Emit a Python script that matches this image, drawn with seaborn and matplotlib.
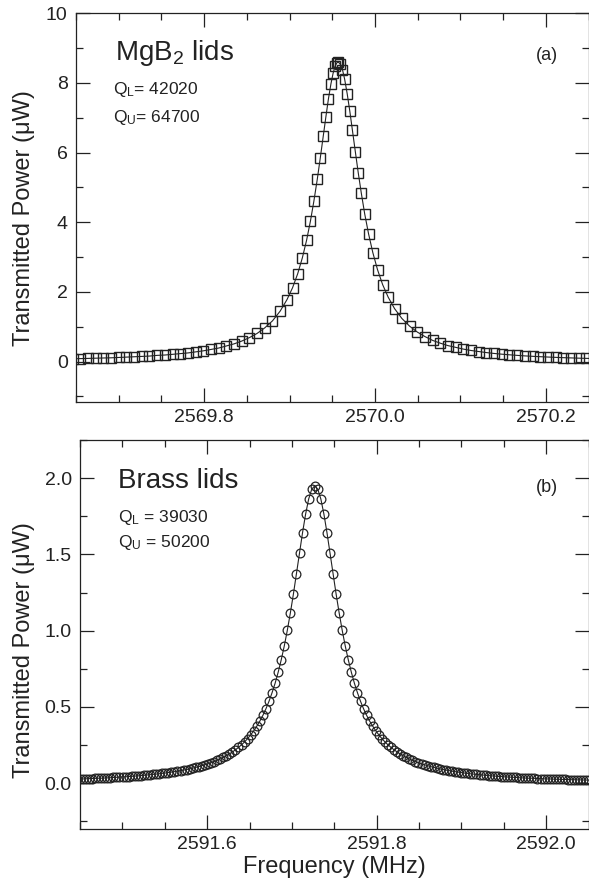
import numpy as np
import pandas as pd
import matplotlib
matplotlib.use("Agg")
import matplotlib.pyplot as plt
import seaborn as sns
from matplotlib.ticker import MultipleLocator

# ---------------- data ----------------
# Panel (a): MgB2 lids
freq_a = [
    2569.646, 2569.655, 2569.664, 2569.673, 2569.682, 2569.691, 2569.700, 2569.709,
    2569.718, 2569.727, 2569.736, 2569.745, 2569.754, 2569.763, 2569.772, 2569.781,
    2569.790, 2569.799, 2569.808, 2569.817, 2569.826, 2569.835, 2569.844, 2569.853,
    2569.862, 2569.871, 2569.880, 2569.889, 2569.897, 2569.9035, 2569.9095, 2569.915,
    2569.920, 2569.9245, 2569.9285, 2569.9325, 2569.936, 2569.9395, 2569.9425, 2569.9455,
    2569.9485, 2569.951, 2569.9535, 2569.9555, 2569.957,
    2569.9595, 2569.962, 2569.9645, 2569.9675, 2569.9705, 2569.9735, 2569.977, 2569.9805,
    2569.984, 2569.988, 2569.9925, 2569.9975, 2570.003, 2570.009, 2570.0155, 2570.023,
    2570.0315, 2570.0405, 2570.0495, 2570.0585, 2570.0675, 2570.0765, 2570.0855, 2570.0945,
    2570.1035, 2570.1125, 2570.1215, 2570.1305, 2570.1395, 2570.1485, 2570.1575, 2570.1665,
    2570.1755, 2570.1845, 2570.1935, 2570.2025, 2570.2115, 2570.2205, 2570.2295, 2570.2385,
    2570.2475, 2570.2565,
]
power_a = [
    0.082, 0.087, 0.093, 0.099, 0.105, 0.11, 0.12, 0.13,
    0.14, 0.15, 0.16, 0.18, 0.19, 0.21, 0.23, 0.25,
    0.28, 0.31, 0.35, 0.39, 0.45, 0.51, 0.59, 0.69,
    0.81, 0.97, 1.17, 1.45, 1.78, 2.12, 2.52, 2.98,
    3.49, 4.04, 4.61, 5.24, 5.85, 6.48, 7.02, 7.54,
    7.98, 8.28, 8.49, 8.58, 8.60,
    8.54, 8.38, 8.11, 7.69, 7.20, 6.66, 6.03, 5.41,
    4.84, 4.24, 3.67, 3.13, 2.64, 2.21, 1.85, 1.52,
    1.24, 1.02, 0.85, 0.72, 0.61, 0.53, 0.46, 0.41,
    0.36, 0.32, 0.29, 0.26, 0.235, 0.214, 0.196, 0.18,
    0.165, 0.153, 0.142, 0.132, 0.123, 0.114, 0.107, 0.10,
    0.094, 0.089,
]

# Panel (b): Brass lids
freq_b = [
    2591.4462, 2591.4498, 2591.4534, 2591.4570, 2591.4606, 2591.4642, 2591.4678, 2591.4714,
    2591.4750, 2591.4786, 2591.4822, 2591.4858, 2591.4894, 2591.4930, 2591.4966, 2591.5002,
    2591.5038, 2591.5074, 2591.5110, 2591.5146, 2591.5182, 2591.5218, 2591.5254, 2591.5290,
    2591.5326, 2591.5362, 2591.5398, 2591.5434, 2591.5470, 2591.5506, 2591.5542, 2591.5578,
    2591.5614, 2591.5650, 2591.5686, 2591.5722, 2591.5758, 2591.5794, 2591.5830, 2591.5866,
    2591.5902, 2591.5938, 2591.5974, 2591.6010, 2591.6046, 2591.6082, 2591.6118, 2591.6154,
    2591.6190, 2591.6226, 2591.6262, 2591.6298, 2591.6334, 2591.6370, 2591.6406, 2591.6442,
    2591.6478, 2591.6514, 2591.6550, 2591.6586, 2591.6622, 2591.6658, 2591.6694, 2591.6730,
    2591.6766, 2591.6802, 2591.6838, 2591.6874, 2591.6910, 2591.6946, 2591.6982, 2591.7018,
    2591.7054, 2591.7090, 2591.7126, 2591.7162, 2591.7198, 2591.7234, 2591.7270, 2591.7306,
    2591.7342, 2591.7378, 2591.7414, 2591.7450, 2591.7486, 2591.7522, 2591.7558, 2591.7594,
    2591.7630, 2591.7666, 2591.7702, 2591.7738, 2591.7774, 2591.7810, 2591.7846, 2591.7882,
    2591.7918, 2591.7954, 2591.7990, 2591.8026, 2591.8062, 2591.8098, 2591.8134, 2591.8170,
    2591.8206, 2591.8242, 2591.8278, 2591.8314, 2591.8350, 2591.8386, 2591.8422, 2591.8458,
    2591.8494, 2591.8530, 2591.8566, 2591.8602, 2591.8638, 2591.8674, 2591.8710, 2591.8746,
    2591.8782, 2591.8818, 2591.8854, 2591.8890, 2591.8926, 2591.8962, 2591.8998, 2591.9034,
    2591.9070, 2591.9106, 2591.9142, 2591.9178, 2591.9214, 2591.9250, 2591.9286, 2591.9322,
    2591.9358, 2591.9394, 2591.9430, 2591.9466, 2591.9502, 2591.9538, 2591.9574, 2591.9610,
    2591.9646, 2591.9682, 2591.9718, 2591.9754, 2591.9790, 2591.9826, 2591.9862, 2591.9898,
    2591.9934, 2591.9970, 2592.0006, 2592.0042, 2592.0078, 2592.0114, 2592.0150, 2592.0186,
    2592.0222, 2592.0258, 2592.0294, 2592.0330, 2592.0366, 2592.0402, 2592.0438, 2592.0474,
    2592.0510,
]
power_b = [
    0.027, 0.028, 0.028, 0.029, 0.030, 0.031, 0.032, 0.033,
    0.033, 0.034, 0.035, 0.036, 0.038, 0.039, 0.040, 0.041,
    0.042, 0.044, 0.045, 0.047, 0.048, 0.050, 0.052, 0.054,
    0.056, 0.058, 0.060, 0.062, 0.065, 0.067, 0.070, 0.073,
    0.076, 0.079, 0.083, 0.086, 0.090, 0.094, 0.099, 0.104,
    0.109, 0.115, 0.121, 0.127, 0.134, 0.142, 0.150, 0.159,
    0.169, 0.180, 0.192, 0.205, 0.219, 0.235, 0.252, 0.271,
    0.293, 0.317, 0.344, 0.374, 0.407, 0.445, 0.488, 0.537,
    0.593, 0.655, 0.727, 0.808, 0.899, 1.002, 1.116, 1.240,
    1.373, 1.509, 1.643, 1.764, 1.863, 1.927, 1.950, 1.927,
    1.863, 1.764, 1.643, 1.509, 1.373, 1.240, 1.116, 1.002,
    0.899, 0.808, 0.727, 0.655, 0.593, 0.537, 0.488, 0.445,
    0.407, 0.374, 0.344, 0.317, 0.293, 0.271, 0.252, 0.235,
    0.219, 0.205, 0.192, 0.180, 0.169, 0.159, 0.150, 0.142,
    0.134, 0.127, 0.121, 0.115, 0.109, 0.104, 0.099, 0.094,
    0.090, 0.086, 0.083, 0.079, 0.076, 0.073, 0.070, 0.067,
    0.065, 0.062, 0.060, 0.058, 0.056, 0.054, 0.052, 0.050,
    0.048, 0.047, 0.045, 0.044, 0.042, 0.041, 0.040, 0.039,
    0.038, 0.036, 0.035, 0.034, 0.033, 0.033, 0.032, 0.031,
    0.030, 0.029, 0.028, 0.028, 0.027, 0.026, 0.026, 0.025,
    0.025, 0.024, 0.023, 0.023, 0.022, 0.022, 0.021, 0.021,
    0.020,
]

title_a = "MgB$_2$ lids"
title_b = "Brass lids"
q_a = ["$\\mathregular{Q_L}$= 42020", "$\\mathregular{Q_U}$= 64700"]
q_b = ["$\\mathregular{Q_L}$ = 39030", "$\\mathregular{Q_U}$ = 50200"]

# ---------------- style ----------------
sns.set_style("ticks")
plt.rcParams["font.family"] = ["Liberation Sans", "DejaVu Sans"]
plt.rcParams["mathtext.fontset"] = "custom"
plt.rcParams["mathtext.rm"] = "Liberation Sans"
plt.rcParams["mathtext.it"] = "Liberation Sans"
plt.rcParams["mathtext.default"] = "regular"

INK = "#222222"

fig = plt.figure(figsize=(5.89, 8.84), dpi=100)
W, H = 589.0, 884.0


def px_axes(left, top, right, bottom):
    return fig.add_axes([left / W, (H - bottom) / H, (right - left) / W, (bottom - top) / H])


ax1 = px_axes(76, 13.3, 588.5, 401.7)
ax2 = px_axes(80, 440, 588.5, 829)

df_a = pd.DataFrame({"Frequency (MHz)": freq_a, "Power": power_a})
df_b = pd.DataFrame({"Frequency (MHz)": freq_b, "Power": power_b})

sns.lineplot(data=df_a, x="Frequency (MHz)", y="Power", ax=ax1, color=INK, linewidth=0.8,
             marker="s", markersize=6.8, markerfacecolor="none", markeredgecolor=INK,
             markeredgewidth=1.0)
sns.lineplot(data=df_b, x="Frequency (MHz)", y="Power", ax=ax2, color=INK, linewidth=0.8,
             marker="o", markersize=6.3, markerfacecolor="none", markeredgecolor=INK,
             markeredgewidth=0.9)

ax1.set_xlim(2569.65, 2570.25)
ax1.set_ylim(-1.15, 10)
ax2.set_xlim(2591.45, 2592.05)
ax2.set_ylim(-0.3, 2.25)

ax1.xaxis.set_major_locator(MultipleLocator(0.2))
ax1.xaxis.set_minor_locator(MultipleLocator(0.05))
ax1.yaxis.set_major_locator(MultipleLocator(2))
ax1.yaxis.set_minor_locator(MultipleLocator(1))
ax2.xaxis.set_major_locator(MultipleLocator(0.2))
ax2.xaxis.set_minor_locator(MultipleLocator(0.05))
ax2.yaxis.set_major_locator(MultipleLocator(0.5))
ax2.yaxis.set_minor_locator(MultipleLocator(0.25))
ax1.xaxis.set_major_formatter(matplotlib.ticker.FormatStrFormatter("%.1f"))
ax2.xaxis.set_major_formatter(matplotlib.ticker.FormatStrFormatter("%.1f"))
ax1.yaxis.set_major_formatter(matplotlib.ticker.FormatStrFormatter("%d"))
ax2.yaxis.set_major_formatter(matplotlib.ticker.FormatStrFormatter("%.1f"))

for ax in (ax1, ax2):
    for sp in ax.spines.values():
        sp.set_visible(True)
        sp.set_linewidth(0.9)
        sp.set_color(INK)
    ax.tick_params(which="both", direction="in", top=True, right=True, color=INK,
                   width=0.9, labelsize=14, labelcolor=INK)
    ax.tick_params(which="major", length=10)
    ax.tick_params(which="minor", length=5)
    ax.tick_params(axis="x", pad=5)
    ax.tick_params(axis="y", pad=6)
    ax.set_ylabel("Transmitted Power (μW)", fontsize=17, color=INK)
    ax.set_xlabel("")

ax1.yaxis.set_label_coords(-0.08, 0.474)
ax2.yaxis.set_label_coords(-0.0885, 0.46)
ax2.set_xlabel("Frequency (MHz)", fontsize=17, color=INK)
ax2.xaxis.set_label_coords(0.5, -0.07)

ax1.text(0.076, 0.880, title_a, transform=ax1.transAxes, fontsize=20, color=INK, va="baseline")
ax1.text(0.072, 0.792, q_a[0], transform=ax1.transAxes, fontsize=12.5, color=INK, va="baseline")
ax1.text(0.072, 0.720, q_a[1], transform=ax1.transAxes, fontsize=12.5, color=INK, va="baseline")
ax1.text(0.919, 0.891, "(a)", transform=ax1.transAxes, fontsize=13, color=INK, ha="center", va="center")

ax2.text(0.075, 0.877, title_b, transform=ax2.transAxes, fontsize=20, color=INK, va="baseline")
ax2.text(0.075, 0.790, q_b[0], transform=ax2.transAxes, fontsize=12.5, color=INK, va="baseline")
ax2.text(0.075, 0.726, q_b[1], transform=ax2.transAxes, fontsize=12.5, color=INK, va="baseline")
ax2.text(0.918, 0.879, "(b)", transform=ax2.transAxes, fontsize=13, color=INK, ha="center", va="center")

fig.savefig("out.png", dpi=100)
